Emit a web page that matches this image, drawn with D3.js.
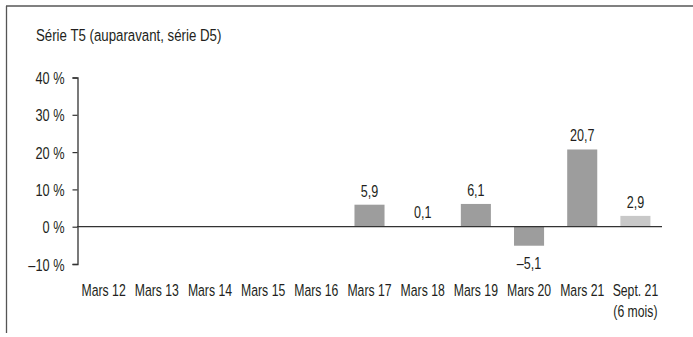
<!DOCTYPE html>
<html>
<head>
<meta charset="utf-8">
<script src="https://cdn.jsdelivr.net/npm/d3@7"></script>
<style>
  html, body { margin: 0; padding: 0; background: #fff; }
  svg { display: block; }
  text { font-family: "Liberation Sans", Arial, sans-serif; fill: #231f20; }
</style>
</head>
<body>
<svg id="chart" width="693" height="337"></svg>
<script>
// Periods and annual change (%) of series T5
const categories = ["Mars 12", "Mars 13", "Mars 14", "Mars 15", "Mars 16", "Mars 17", "Mars 18", "Mars 19", "Mars 20", "Mars 21", "Sept. 21\n(6 mois)"];
const values = [null, null, null, null, null, 5.9, 0.1, 6.1, -5.1, 20.7, 2.9];
const partial = [false, false, false, false, false, false, false, false, false, false, true];
const yTicks = [-10, 0, 10, 20, 30, 40];
const title = "Série T5 (auparavant, série D5)";

const svg = d3.select("#chart");
const W = 693, H = 337;
const FS = 17; // font size

// Place a text at (x, y), squeezed horizontally for a condensed look
function condensed(sel, xf, yf, k) {
  sel.attr("transform", (d, i) => `translate(${xf(d, i)},${yf(d, i)}) scale(${k},1)`)
     .attr("font-size", FS);
  return sel;
}

const x = d3.scaleBand().domain(categories).range([77, 662]).paddingInner(0.435).paddingOuter(0.2175);
const y = d3.scaleLinear().domain([-10, 40]).range([264, 77.5]);

const fmt = v => (v < 0 ? "–" : "") + Math.abs(v).toFixed(1).replace(".", ",");

// Frame
svg.append("line").attr("x1", 6).attr("x2", W).attr("y1", 6).attr("y2", 6)
  .attr("stroke", "#808080").attr("stroke-width", 2);
svg.append("line").attr("x1", 6.5).attr("x2", 6.5).attr("y1", 6).attr("y2", 333)
  .attr("stroke", "#555").attr("stroke-width", 1.3);

// Title
condensed(svg.append("text").datum(title), () => 36, () => 41, 0.78).text(d => d);

// Y axis
const yAxis = d3.axisLeft(y).tickValues(yTicks).tickSize(5).tickPadding(8)
  .tickFormat(d => (d < 0 ? "–" : "") + Math.abs(d) + " %");
const gy = svg.append("g").attr("transform", "translate(77.5,0)").call(yAxis);
gy.attr("font-family", null).attr("font-size", null);
gy.select(".domain").attr("stroke", "#333").attr("stroke-width", 1.3);
gy.selectAll(".tick line").attr("stroke", "#333").attr("stroke-width", 1.2);
gy.selectAll(".tick text")
  .attr("x", null).attr("dy", "0.36em").attr("fill", "#231f20")
  .attr("font-size", FS)
  .attr("transform", "translate(-13,0) scale(0.75,1)");

// Bars
const data = categories.map((c, i) => ({ c, v: values[i], p: partial[i] })).filter(d => d.v !== null);
svg.append("g").selectAll("rect").data(data).join("rect")
  .attr("x", d => x(d.c))
  .attr("width", x.bandwidth())
  .attr("y", d => y(Math.max(0, d.v)))
  .attr("height", d => Math.abs(y(d.v) - y(0)))
  .attr("fill", d => d.p ? "#c8c8c8" : "#9d9d9d");

// Zero line
svg.append("line").attr("x1", 77).attr("x2", 662).attr("y1", y(0)).attr("y2", y(0))
  .attr("stroke", "#333").attr("stroke-width", 1.3);

// Value labels
condensed(
  svg.append("g").selectAll("text").data(data).join("text").attr("text-anchor", "middle"),
  d => x(d.c) + x.bandwidth() / 2,
  d => d.v >= 0 ? y(d.v) - 8 : y(d.v) + 23,
  0.74
).text(d => fmt(d.v));

// Category labels
const cl = condensed(
  svg.append("g").selectAll("text").data(categories).join("text").attr("text-anchor", "middle"),
  d => x(d) + x.bandwidth() / 2,
  () => 295.5,
  0.72
);
cl.each(function(d) {
  const lines = d.split("\n");
  d3.select(this).selectAll("tspan").data(lines).join("tspan")
    .attr("x", 0)
    .attr("dy", (l, i) => i === 0 ? 0 : 21.5)
    .text(l => l);
});
</script>
</body>
</html>
